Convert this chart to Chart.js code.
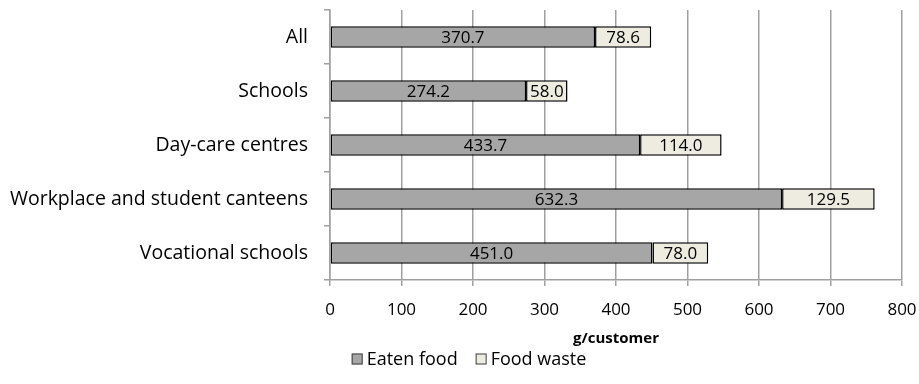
<!DOCTYPE html>
<html>
<head>
<meta charset="utf-8">
<script src="https://cdn.jsdelivr.net/npm/chart.js@4"></script>
<style>
  html, body { margin: 0; padding: 0; background: #fff; }
  #wrap { width: 919px; height: 384px; position: relative; }
</style>
</head>
<body>
<div id="wrap"><canvas id="foodChart"></canvas></div>
<script>
// chart data
const categories = ['All', 'Schools', 'Day-care centres', 'Workplace and student canteens', 'Vocational schools'];
const eatenFood = [370.7, 274.2, 433.7, 632.3, 451.0];
const foodWaste = [78.6, 58.0, 114.0, 129.5, 78.0];
const xTicks = [0, 100, 200, 300, 400, 500, 600, 700, 800];

const FONT = "'Open Sans', sans-serif";

// draws the value inside each bar segment
const barLabels = {
    id: 'barLabels',
    afterDatasetsDraw(chart) {
        const ctx = chart.ctx;
        ctx.save();
        ctx.font = '17px ' + FONT;
        ctx.fillStyle = '#000';
        ctx.textAlign = 'center';
        ctx.textBaseline = 'middle';
        chart.data.datasets.forEach((ds, i) => {
            chart.getDatasetMeta(i).data.forEach((bar, j) => {
                const cx = (bar.x + bar.base) / 2;
                ctx.fillText(ds.data[j].toFixed(1), cx, bar.y + 1);
            });
        });
        ctx.restore();
    }
};

// simple legend under the axis title, centred a bit right of the canvas middle
const bottomLegend = {
    id: 'bottomLegend',
    afterDraw(chart) {
        const ctx = chart.ctx;
        const box = 11, gapText = 4, gapItem = 18;
        ctx.save();
        ctx.font = '18px ' + FONT;
        const items = chart.data.datasets.map(ds => ({
            text: ds.label, color: ds.backgroundColor, w: ctx.measureText(ds.label).width
        }));
        const total = items.reduce((s, it) => s + box + gapText + it.w, 0) + gapItem * (items.length - 1);
        let x = 469 - total / 2;
        const y = 359;
        ctx.textBaseline = 'middle';
        ctx.textAlign = 'left';
        items.forEach(it => {
            ctx.fillStyle = it.color;
            ctx.fillRect(x, y - box / 2, box, box);
            ctx.strokeStyle = '#404040';
            ctx.lineWidth = 1;
            ctx.strokeRect(x + 0.5, y - box / 2 + 0.5, box - 1, box - 1);
            ctx.fillStyle = '#000';
            ctx.fillText(it.text, x + box + gapText, y + 1);
            x += box + gapText + it.w + gapItem;
        });
        ctx.restore();
    }
};

new Chart(document.getElementById('foodChart'), {
    type: 'bar',
    data: {
        labels: categories,
        datasets: [
            {
                label: 'Eaten food',
                data: eatenFood,
                backgroundColor: '#a6a6a6',
                borderColor: '#000',
                borderWidth: 1.5,
                borderSkipped: false
            },
            {
                label: 'Food waste',
                data: foodWaste,
                backgroundColor: '#eeece1',
                borderColor: '#000',
                borderWidth: 1.5,
                borderSkipped: false
            }
        ]
    },
    options: {
        indexAxis: 'y',
        responsive: true,
        maintainAspectRatio: false,
        animation: false,
        barPercentage: 0.4,
        categoryPercentage: 1,
        layout: { autoPadding: false, padding: { top: 10, right: 17, left: 0, bottom: 34 } },
        plugins: {
            legend: { display: false },
            tooltip: { enabled: false }
        },
        scales: {
            x: {
                stacked: true,
                min: 0,
                max: 800,
                afterBuildTicks: (scale) => {
                    scale.ticks = xTicks.map(v => ({ value: v }));
                },
                afterFit: (scale) => {
                    scale.height = 70;
                    scale.paddingLeft = 0;
                    scale.paddingRight = 0;
                },
                grid: { color: '#a0a0a0', lineWidth: 1.5, tickLength: 6 },
                border: { color: '#a0a0a0', width: 1.5 },
                ticks: { color: '#000', font: { family: FONT, size: 17 }, padding: 14, maxRotation: 0 },
                title: {
                    display: true,
                    text: 'g/customer',
                    color: '#000',
                    font: { family: FONT, size: 15, weight: 'bold' },
                    padding: { top: 0, bottom: 2 }
                }
            },
            y: {
                stacked: true,
                afterFit: (scale) => {
                    scale.width = 330;
                    scale.paddingTop = 0;
                    scale.paddingBottom = 0;
                },
                grid: { drawOnChartArea: false, color: '#a0a0a0', lineWidth: 1.5, tickLength: 6 },
                border: { color: '#a0a0a0', width: 1.5 },
                ticks: { color: '#000', font: { family: FONT, size: 19.5 }, padding: 16 }
            }
        }
    },
    plugins: [barLabels, bottomLegend]
});
</script>
</body>
</html>
